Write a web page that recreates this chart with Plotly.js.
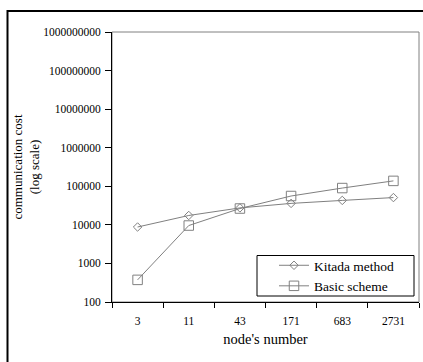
<!DOCTYPE html>
<html>
<head>
<meta charset="utf-8">
<script src="https://cdn.plot.ly/plotly-3.0.1.min.js"></script>
<style>
html,body{margin:0;padding:0;background:#fff;}
#chart{width:423px;height:362px;}
</style>
</head>
<body>
<div id="chart"></div>
<script>
const nodes = ["3", "11", "43", "171", "683", "2731"];
const kitada = [8800, 17500, 27500, 36000, 43000, 51000];
const basic = [375, 9600, 26500, 56000, 90000, 138000];
const yTickVals = [100, 1000, 10000, 100000, 1000000, 10000000, 100000000, 1000000000];
const yTickText = ["100", "1000", "10000", "100000", "1000000", "10000000", "100000000", "1000000000"];

const FONT = "Liberation Serif";
const GRAY = "#808080";

// plot area in px: left 112, right 419, top 32, bottom 302
const L = 112, R = 419, T = 32, B = 302, W = 423, H = 362;
const pw = R - L, ph = B - T;
const px = v => (v - L) / pw;
const py = v => (B - v) / ph;

const traces = [
  {
    x: nodes, y: kitada, name: "Kitada method", type: "scatter", mode: "lines+markers",
    line: {color: GRAY, width: 1},
    marker: {symbol: "diamond-open", size: 6.5, color: GRAY, line: {color: GRAY, width: 1}}
  },
  {
    x: nodes, y: basic, name: "Basic scheme", type: "scatter", mode: "lines+markers",
    line: {color: GRAY, width: 1},
    marker: {symbol: "square-open", size: 9.5, color: GRAY, line: {color: GRAY, width: 1}}
  }
];

const layout = {
  width: W, height: H,
  margin: {l: L, r: W - R, t: T, b: H - B, pad: 0},
  paper_bgcolor: "#fff", plot_bgcolor: "#fff",
  font: {family: FONT, color: "#000", size: 11.5},
  showlegend: true,
  legend: {
    x: px(274), y: py(250), xanchor: "left", yanchor: "top",
    bgcolor: "rgba(0,0,0,0)", borderwidth: 0,
    font: {family: FONT, size: 13.5, color: "#000"},
    tracegroupgap: 0
  },
  xaxis: {
    type: "category",
    range: [-0.5, 5.5],
    showgrid: false, zeroline: false,
    showline: true, linecolor: "#000", linewidth: 1,
    ticks: "outside", ticklen: 5, tickcolor: "#000", tickwidth: 1,
    tickson: "boundaries",
    ticklabelstandoff: 8,
    tickfont: {family: FONT, size: 11.5, color: "#000"},
    title: {text: "node's number", font: {family: FONT, size: 14.5, color: "#000"}, standoff: 8},
    fixedrange: true
  },
  yaxis: {
    type: "log",
    range: [2, 9],
    tickvals: yTickVals, ticktext: yTickText,
    showgrid: false, zeroline: false,
    showline: true, linecolor: "#000", linewidth: 1,
    ticks: "outside", ticklen: 6, tickcolor: "#000", tickwidth: 1,
    ticklabelstandoff: 2,
    tickfont: {family: FONT, size: 11.5, color: "#000"},
    title: {text: "communication cost<br>(log scale)", font: {family: FONT, size: 13, color: "#000"}, standoff: 0},
    automargin: false,
    fixedrange: true
  },
  shapes: [
    {type: "rect", xref: "paper", yref: "paper", x0: 0, x1: 1, y0: 0, y1: 1,
     line: {color: GRAY, width: 1}, layer: "below"},
    {type: "rect", xref: "paper", yref: "paper", x0: px(257), x1: px(414), y0: py(296), y1: py(255.5),
     line: {color: "#000", width: 1}, fillcolor: "#fff", layer: "above"},
    {type: "rect", xref: "paper", yref: "paper", x0: px(7.5), x1: px(440), y0: py(380), y1: py(11),
     line: {color: "#000", width: 2}, layer: "above"}
  ]
};

Plotly.newPlot("chart", traces, layout, {displayModeBar: false, staticPlot: true});
</script>
</body>
</html>
